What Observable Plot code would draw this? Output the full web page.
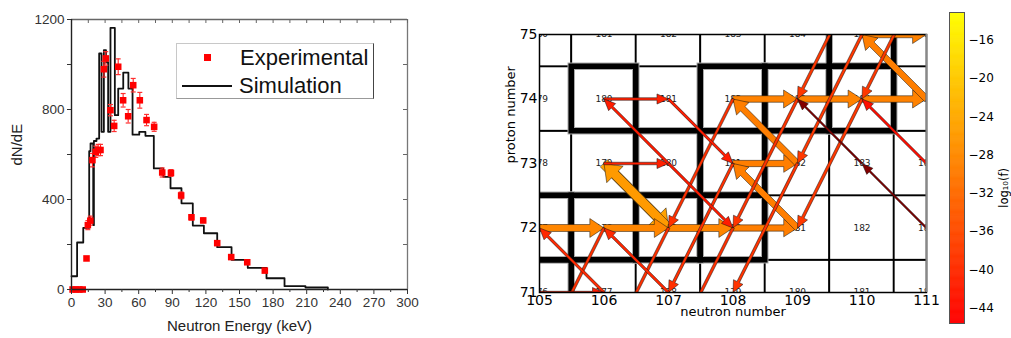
<!DOCTYPE html>
<html><head><meta charset="utf-8">
<script src="https://cdn.jsdelivr.net/npm/d3@7"></script>
<script src="https://cdn.jsdelivr.net/npm/@observablehq/plot@0.6"></script>
<style>
body{margin:0;background:#fff;}
#wrap{position:relative;width:1011px;height:338px;overflow:hidden;background:#fff;}
#wrap > svg, #wrap > div{position:absolute;top:0;}
</style></head><body><div id="wrap"></div>
<script>
// ================= LEFT PANEL DATA =================
const simBinEdges = [0,5,10.5,15.8,17,19.4,20,22.3,24.7,26.8,28.9,30.8,32.7,34.8,38.7,41.7,46.2,50.8,54.5,60.5,66,73.5,81.9,88.4,98.2,108.3,118.2,130.1,142.9,157.4,174.1,190.2,208.9,228.9];
const simCounts   = [59,209,274,615,649,286,660,671,1049,701,1064,1010,701,1163,775,893,964,893,688,701,683,538,501,450,383,284,250,188,132,96,50,15,9];
const expEnergy = [1,4,7,10,13.4,14.6,16.8,18.7,21.7,23.8,25.9,28.9,30.6,34.8,38.1,41.7,46.1,50.6,55.1,61,67,73.8,81,88.8,97.9,107.1,117.6,130.1,142.6,156.9,172.6];
const expValue  = [0,0,0,0,138,286,306,575,612,620,620,979,1027,797,727,990,841,770,908,841,753,723,520,518,418,321,307,206,144,121,84];
const expError  = [0,0,0,0,0,20,20,30,25,25,25,35,30,25,25,35,30,30,30,35,25,20,20,15,15,12,10,10,8,8,8];
const energyTicks = [0,30,60,90,120,150,180,210,240,270,300];
const energyMinorTicks = [15,45,75,105,135,165,195,225,255,285];
const countTicks = [0,400,800,1200];
const countMinorTicks = [200,600,1000];

// ================= RIGHT PANEL DATA =================
const neutronNumbers = [105,106,107,108,109,110,111];
const protonNumbers = [71,72,73,74,75];
const stableNuclei = [[105,71],[105,72],[106,72],[107,72],[108,72],[107,73],[108,73],[106,74],[108,74],[109,74],[110,74],[110,75]];
const flowFrom = [[105,71],[105,72],[106,72],[107,72],[108,72],[106,73],[108,73],[106,74],[108,74],[109,74],[110,74],[110,75],
  [106,73],[107,72],[109,73],[109,72],[111,74],[106,71],[107,71],[107,73],[107,73],[107,74],[110,73],[111,72],[111,73],
  [108,74],[108,73],[106,72],[107,72],[108,72],[109,74],[109,73],[110,76],[110,75],[110,74],[111,76]];
const flowTo = [[106,71],[106,72],[107,72],[108,72],[109,72],[107,73],[109,73],[107,74],[109,74],[110,74],[111,74],[111,75],
  [107,72],[106,73],[108,74],[108,73],[110,75],[105,72],[106,72],[106,74],[108,72],[108,73],[109,74],[110,73],[110,74],
  [107,72],[107,71],[105,70],[106,70],[107,70],[108,72],[108,71],[109,74],[109,73],[109,72],[110,74]];
const flowLog10f = [-42,-28.5,-28.5,-28.5,-29.5,-41.5,-29.5,-41.5,-29,-29,-29,-29,
  -25,-26,-29.5,-29.5,-29.5,-40.5,-40.5,-42,-42,-42,-55,-55,-44,
  -39.5,-39.5,-39.5,-39.5,-39.5,-39,-39,-38.5,-38.5,-38.5,-38.5];
const colorbarTicks = [-44,-40,-36,-32,-28,-24,-20,-16];
const colorbarRange = [-45.6,-13.1];

// ================= SHARED SCALE CONFIG =================
const colorCfg = {type:"linear", domain:[-60,-45.6,-13.1], range:["#400000","#ff0000","#ffff00"], interpolate:"rgb"};
const wrap = document.getElementById("wrap");

// ---------- LEFT CHART ----------
const stairs = simBinEdges.map((e,i)=>({e, v: i < simCounts.length ? simCounts[i] : 0}));
const exp = expEnergy.map((e,i)=>({e, v: expValue[i], err: expError[i]}));
const expErr = exp.filter(d=>d.err>0);
const capSymbol = {draw(ctx,size){const w=Math.sqrt(size)/2; ctx.moveTo(-w,0); ctx.lineTo(w,0);}};
const LH = 338, LT = 19, LB = 49, LL = 71, LR = 13;
const left = Plot.plot({
  width:420, height:LH, marginLeft:LL, marginRight:LR, marginTop:LT, marginBottom:LB,
  style:{fontFamily:"'Liberation Sans', Arial, sans-serif", fontSize:"13.5px", color:"#333", background:"transparent"},
  x:{domain:[0,300]}, y:{domain:[0,1200]},
  marks:[
    Plot.ruleY([1200],{stroke:"#666", strokeWidth:1.3}),
    Plot.ruleX([300],{stroke:"#777", strokeWidth:1.3}),
    Plot.tickX(energyTicks.concat(energyMinorTicks),{x:d=>d, stroke:"#666", insetBottom:LH-LT-LB-4}),
    Plot.tickY(countTicks.concat(countMinorTicks),{y:d=>d, stroke:"#666", insetLeft:420-LL-LR-4}),
    Plot.line(stairs,{x:"e", y:"v", curve:"step-after", stroke:"#111", strokeWidth:1.8}),
    Plot.ruleX(expErr,{x:"e", y1:d=>d.v-d.err, y2:d=>d.v+d.err, stroke:"#ff2020", strokeWidth:1.1}),
    Plot.dot(expErr,{x:"e", y:d=>d.v-d.err, symbol:capSymbol, r:2.8, stroke:"#ff3030", strokeWidth:1.2}),
    Plot.dot(expErr,{x:"e", y:d=>d.v+d.err, symbol:capSymbol, r:2.8, stroke:"#ff3030", strokeWidth:1.2}),
    Plot.dot(exp,{x:"e", y:"v", symbol:"square", r:3.7, fill:"#ff0000"}),
    Plot.ruleY([0],{stroke:"#222", strokeWidth:1.4}),
    Plot.ruleX([0],{stroke:"#222", strokeWidth:1.4}),
    Plot.axisX({ticks:energyMinorTicks, tickSize:3, tickFormat:()=>"", label:null}),
    Plot.axisX({ticks:energyTicks, tickSize:5, tickPadding:3, tickFormat:d=>String(d), label:null}),
    Plot.axisY({ticks:countMinorTicks, tickSize:4, tickFormat:()=>"", label:null}),
    Plot.axisY({ticks:countTicks, tickSize:4, tickPadding:3, tickFormat:d=>String(d), label:null}),
    Plot.text(["Neutron Energy (keV)"],{text:d=>d, frameAnchor:"bottom", dy:41, fontSize:15, fill:"#222"}),
    Plot.text(["dN/dE"],{text:d=>d, frameAnchor:"left", dx:-54, dy:11, rotate:-90, fontSize:15, fill:"#222"})
  ]
});
left.style.left = "0px";
wrap.appendChild(left);

// legend (HTML overlay)
const leg = document.createElement("div");
leg.style.cssText = "left:176px;top:43px;width:196px;height:54px;border:1px solid #c8c8c8;border-right:1.6px solid #444;border-bottom:1.4px solid #999;font-family:'Liberation Sans',Arial,sans-serif;font-size:22px;color:#111;background:transparent;";
leg.innerHTML = `<div style="position:absolute;left:27px;top:10px;width:7px;height:7px;background:#f00"></div>
<div style="position:absolute;left:63px;top:1px;line-height:26px;white-space:nowrap">Experimental</div>
<div style="position:absolute;left:5px;top:41px;width:50px;height:2px;background:#111"></div>
<div style="position:absolute;left:62px;top:29px;line-height:26px;white-space:nowrap">Simulation</div>`;
wrap.appendChild(leg);

// ---------- RIGHT CHART ----------
const RW = 450, RH = 338, RL = 49, RR = 14, RT = 34, RB = 46;
const pxPerUnit = (RW-RL-RR)/(neutronNumbers[neutronNumbers.length-1]-neutronNumbers[0]);
const k = 1/pxPerUnit;
const cells = [];
for (const N of neutronNumbers) for (const Z of protonNumbers) cells.push({N, Z});
const stable = stableNuclei.map(([N,Z])=>({N,Z}));
const widthOf = d3.scaleLinear().domain([-55,-42,-38,-29,-25]).range([1.8,2.5,2.9,6.5,10]).clamp(true);
const flows = flowFrom.map((f,i)=>({from:f, to:flowTo[i], v:flowLog10f[i]}))
  .sort((a,b)=>d3.descending(a.v,b.v));
const arrowPts = [];
flows.forEach((f,id)=>{
  const [x1,y1] = f.from, [x2,y2] = f.to;
  const w = widthOf(f.v), hw = 2*w+5, hl = 10+0.6*w;
  const dx=x2-x1, dy=y2-y1, L=Math.hypot(dx,dy);
  const ux=dx/L, uy=dy/L, px=-uy, py=ux;
  const a=w/2*k, b=hw/2*k, h=hl*k;
  const bx=x2-ux*h, by=y2-uy*h;
  [[x1+px*a,y1+py*a],[bx+px*a,by+py*a],[bx+px*b,by+py*b],[x2,y2],[bx-px*b,by-py*b],[bx-px*a,by-py*a],[x1-px*a,y1-py*a]]
    .forEach(([x,y])=>arrowPts.push({id, x, y, v:f.v}));
});
const cellBox = {x1:d=>d.N-0.5, x2:d=>d.N+0.5, y1:d=>d.Z-0.5, y2:d=>d.Z+0.5};
const right = Plot.plot({
  width:RW, height:RH, marginLeft:RL, marginRight:RR, marginTop:RT, marginBottom:RB,
  style:{fontFamily:"'DejaVu Sans', sans-serif", fontSize:"14px", color:"#000", background:"transparent"},
  x:{domain:[105,111]}, y:{domain:[71,75]},
  color:colorCfg,
  marks:[
    Plot.rect(cells,{...cellBox, fill:"white", stroke:"#000", strokeWidth:1.8, clip:true}),
    Plot.rect(stable,{...cellBox, fill:"none", stroke:"#aaa", strokeWidth:7.5, clip:true}),
    Plot.rect(stable,{...cellBox, fill:"none", stroke:"#000", strokeWidth:5.5, clip:true}),
    Plot.text(cells,{x:"N", y:"Z", text:d=>d.N+d.Z, fontSize:9, fill:"#222", clip:true}),
    Plot.line(arrowPts,{x:"x", y:"y", z:"id", fill:"v", stroke:"#111", strokeWidth:0.6, strokeOpacity:0.85, curve:"linear-closed", clip:true}),
    Plot.frame({stroke:"#000", strokeWidth:1.5}),
    Plot.ruleX([111],{stroke:"#888", strokeWidth:2}),
    Plot.axisX({ticks:neutronNumbers, tickSize:0, tickPadding:3, tickFormat:d=>String(d), label:null}),
    Plot.axisY({ticks:protonNumbers, tickSize:0, tickPadding:2, tickFormat:d=>String(d), label:null}),
    Plot.text(["neutron number"],{text:d=>d, frameAnchor:"bottom", dy:23, fontSize:13}),
    Plot.text(["proton number"],{text:d=>d, frameAnchor:"left", dx:-29, rotate:-90, fontSize:13})
  ]
});
right.style.left = "490px";
wrap.appendChild(right);

// ---------- COLORBAR ----------
const step = 0.05;
const ramp = d3.range(colorbarRange[0], colorbarRange[1], step);
const cbar = Plot.plot({
  width:81, height:338, marginLeft:19, marginRight:47, marginTop:12, marginBottom:15,
  style:{fontFamily:"'DejaVu Sans', sans-serif", fontSize:"12px", color:"#000", background:"transparent"},
  x:{domain:[0,1], axis:null}, y:{domain:colorbarRange},
  color:colorCfg,
  marks:[
    Plot.rect(ramp,{x1:()=>0, x2:()=>1, y1:d=>d, y2:d=>d+step*2, fill:d=>d+step/2, clip:true}),
    Plot.frame({stroke:"#555", strokeWidth:1}),
    Plot.axisY({anchor:"right", ticks:colorbarTicks, tickSize:0, tickPadding:4, tickFormat:d=>(d<0?"\u2212":"")+Math.abs(d), label:null}),
    Plot.text(["log\u2081\u2080(f)"],{text:d=>d, frameAnchor:"right", dx:40, rotate:-90, fontSize:11.5})
  ]
});
cbar.style.left = "930px";
wrap.appendChild(cbar);
</script></body></html>
